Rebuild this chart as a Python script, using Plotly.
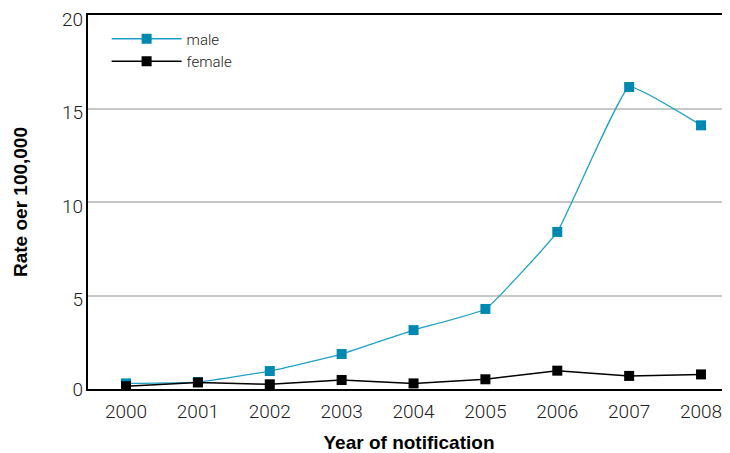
import plotly.graph_objects as go

years = [2000, 2001, 2002, 2003, 2004, 2005, 2006, 2007, 2008]
male = [0.3, 0.37, 0.96, 1.87, 3.15, 4.28, 8.4, 16.15, 14.1]
female = [0.15, 0.35, 0.25, 0.48, 0.3, 0.52, 0.98, 0.7, 0.78]
y_ticks = [0, 5, 10, 15, 20]

LABEL_SHIFT = 0.214  # labels sit a few pixels below their gridlines
fig = go.Figure()
fig.add_trace(go.Scatter(x=years, y=male, name="male", mode="lines+markers",
                         line=dict(color="#1FA0C6", width=1.3, shape="spline", smoothing=0.3),
                         marker=dict(symbol="square", size=10, color="#0089B0")))
fig.add_trace(go.Scatter(x=years, y=female, name="female", mode="lines+markers",
                         line=dict(color="#000000", width=1.5),
                         marker=dict(symbol="square", size=10, color="#000000")))
# invisible helper trace so the (slightly offset) label axis gets drawn
fig.add_trace(go.Scatter(x=years, y=female, yaxis="y2", mode="lines", opacity=0,
                         showlegend=False, hoverinfo="skip"))

tickfont = dict(size=19, family="Roboto", color="#222", weight=300)
fig.update_layout(
    width=722, height=445,
    margin=dict(l=80, r=0, t=7, b=64),
    plot_bgcolor="white", paper_bgcolor="white",
    font=dict(family="Roboto", color="#222"),
    showlegend=True,
    legend=dict(x=0.029, y=0.98, xanchor="left", yanchor="top",
                font=dict(size=15, family="Roboto", color="#222", weight=300),
                itemwidth=70, bgcolor="rgba(0,0,0,0)", tracegroupgap=0),
    xaxis=dict(range=[1999.471, 2008.403], tickvals=years, ticktext=[str(y) for y in years],
               showgrid=False, showline=True, linecolor="black", linewidth=2, mirror=True,
               ticks="", automargin=False, ticklabelstandoff=4, ticklabeloverflow="allow",
               tickfont=tickfont,
               title=dict(text="<b>Year of notification</b>", font=dict(size=19, family="Liberation Sans", color="black"), standoff=14)),
    yaxis=dict(range=[0, 20], tickvals=y_ticks, showgrid=True, gridcolor="#c8c8c8", gridwidth=2,
               showline=True, linecolor="black", linewidth=2, zeroline=False,
               ticks="", automargin=False, showticklabels=False,
               title=dict(text="<b>Rate oer 100,000</b>", font=dict(size=19, family="Liberation Sans", color="black"), standoff=53)),
    yaxis2=dict(range=[LABEL_SHIFT, 20 + LABEL_SHIFT],
                tickvals=[max(v, LABEL_SHIFT + 0.001) for v in y_ticks],
                ticktext=[str(v) for v in y_ticks], overlaying="y", side="left",
                showgrid=False, showline=False, zeroline=False, ticks="", automargin=False,
                ticklabelstandoff=4, ticklabeloverflow="allow", tickfont=tickfont),
)
fig.write_html("out.html")
